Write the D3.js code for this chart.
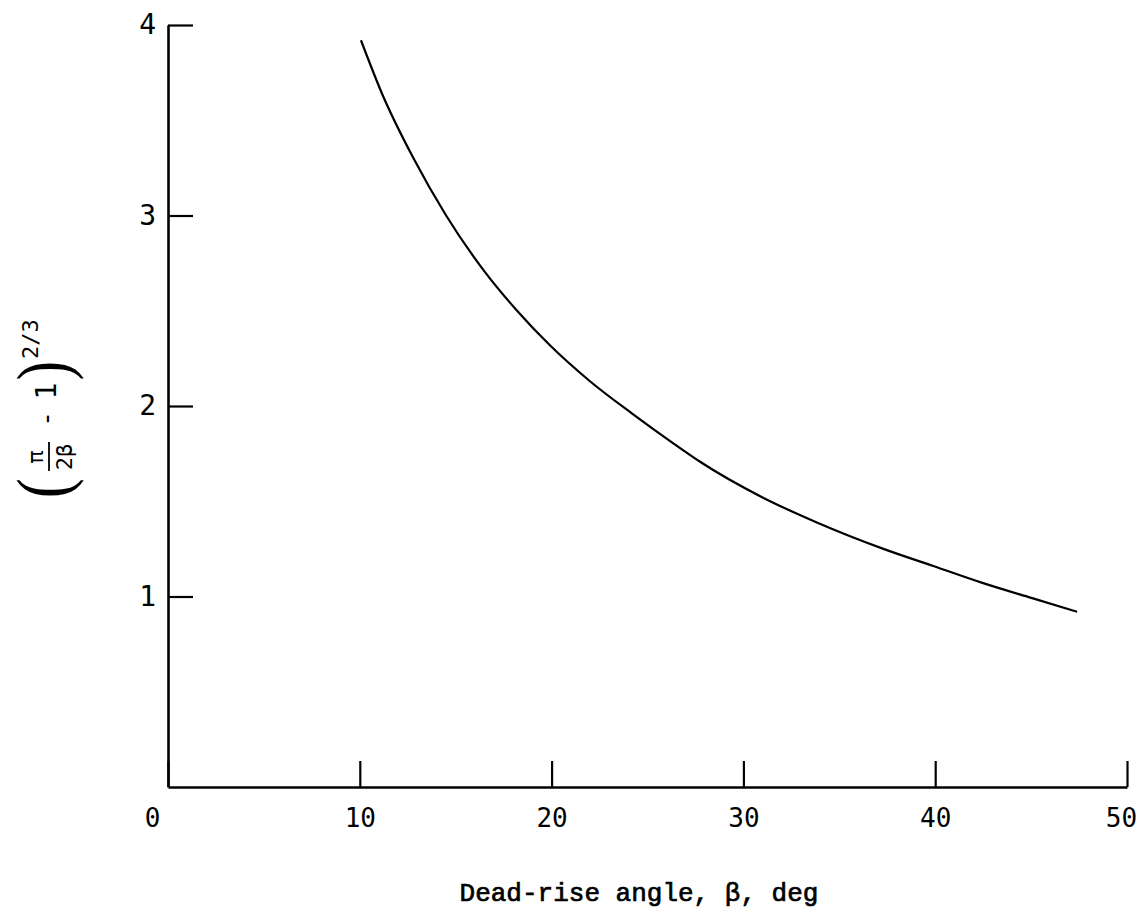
<!DOCTYPE html>
<html>
<head>
<meta charset="utf-8">
<script src="https://cdn.jsdelivr.net/npm/d3@7"></script>
<style>
  html, body { margin: 0; padding: 0; background: #fff; }
  svg { display: block; }
</style>
</head>
<body>
<svg id="chart" width="1141" height="914"></svg>
<script>
// ---- data ----
const xTicks = [0, 10, 20, 30, 40, 50];
const yTicks = [1, 2, 3, 4];
const beta = [10.06, 11.2, 12.8, 14.5, 16.4, 18.2, 19.9, 22.0, 24.2, 26.4, 27.7, 31.0, 33.8, 37.3, 39.9, 42.5, 45.1, 47.4];
const ratio = [3.92, 3.63, 3.30, 3.00, 2.72, 2.50, 2.32, 2.13, 1.96, 1.80, 1.71, 1.52, 1.39, 1.25, 1.16, 1.07, 0.99, 0.92];
const xTitle = "Dead-rise angle, \u03B2, deg";

// ---- layout ----
const svg = d3.select("#chart");
const x = d3.scaleLinear().domain([0, 50]).range([168, 1127]);
const y = d3.scaleLinear().domain([0, 4]).range([787, 25]);

// x axis
const gx = svg.append("g").attr("transform", `translate(0,${y(0)})`)
  .call(d3.axisBottom(x).tickValues(xTicks).tickFormat(d3.format("d"))
    .tickSizeInner(-26).tickSizeOuter(0).tickPadding(22));
gx.select(".domain").attr("stroke", "#000").attr("stroke-width", 2.6);
gx.selectAll(".tick line").attr("stroke", "#000").attr("stroke-width", 2.2);
gx.selectAll(".tick text").attr("font-family", "'DejaVu Sans Mono', monospace")
  .attr("font-size", 26).attr("fill", "#000")
  .attr("dx", d => d === 0 ? -16 : (d === 50 ? -6 : 0));

// y axis
const gy = svg.append("g").attr("transform", `translate(${x(0)},0)`)
  .call(d3.axisLeft(y).tickValues(yTicks).tickFormat(d3.format("d"))
    .tickSizeInner(-25).tickSizeOuter(0).tickPadding(12));
gy.select(".domain").attr("stroke", "#000").attr("stroke-width", 2.6);
gy.selectAll(".tick line").attr("stroke", "#000").attr("stroke-width", 2.2);
gy.selectAll(".tick text").attr("font-family", "'DejaVu Sans Mono', monospace")
  .attr("font-size", 28).attr("fill", "#000");

// curve
const pts = beta.map((b, i) => [b, ratio[i]]);
svg.append("path").datum(pts)
  .attr("fill", "none").attr("stroke", "#000").attr("stroke-width", 2.2)
  .attr("d", d3.line().x(d => x(d[0])).y(d => y(d[1])).curve(d3.curveMonotoneX));

// x title
svg.append("text").attr("x", 639).attr("y", 901)
  .attr("text-anchor", "middle")
  .attr("font-family", "'Liberation Mono', monospace").attr("font-size", 26)
  .attr("stroke", "#000").attr("stroke-width", 0.7).attr("fill", "#000")
  .text(xTitle);

// y title: (π/2β − 1)^(2/3), rotated
const yl = svg.append("g").attr("transform", "translate(0,498) rotate(-90)")
  .attr("font-family", "'DejaVu Sans Mono', monospace").attr("fill", "#000");
yl.append("text").attr("x", 0).attr("y", 68).attr("font-family", "'Liberation Serif', serif")
  .attr("font-size", 74).attr("transform", "scale(0.8,1)").text("(");
yl.append("text").attr("x", 41).attr("y", 43).attr("text-anchor", "middle").attr("font-size", 22).text("\u03C0");
yl.append("line").attr("x1", 27).attr("x2", 56).attr("y1", 49).attr("y2", 49).attr("stroke", "#000").attr("stroke-width", 1.8);
yl.append("text").attr("x", 41).attr("y", 72).attr("text-anchor", "middle").attr("font-size", 22).text("2\u03B2");
yl.append("text").attr("x", 79).attr("y", 55).attr("text-anchor", "middle").attr("font-size", 26).text("-");
yl.append("text").attr("x", 107).attr("y", 56).attr("text-anchor", "middle").attr("font-size", 28).text("1");
yl.append("text").attr("x", 147).attr("y", 68).attr("font-family", "'Liberation Serif', serif")
  .attr("font-size", 74).attr("transform", "scale(0.8,1)").text(")");
yl.append("text").attr("x", 139).attr("y", 38).attr("font-size", 22).text("2/3");
</script>
</body>
</html>
